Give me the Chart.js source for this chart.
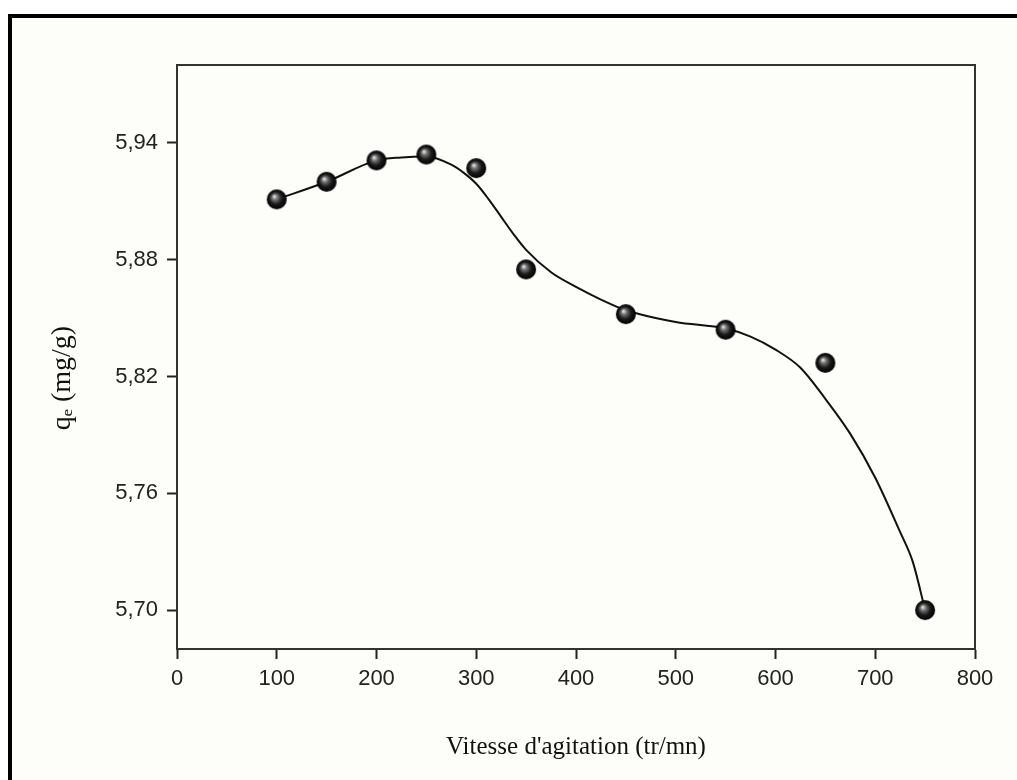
<!DOCTYPE html>
<html>
<head>
<meta charset="utf-8">
<script src="https://cdn.jsdelivr.net/npm/chart.js@4"></script>
<style>
  html, body { margin: 0; padding: 0; background: #fff; }
  canvas { display: block; }
</style>
</head>
<body>
<canvas id="chart" width="1017" height="780"></canvas>
<script>
// measured points
var speeds = [100, 150, 200, 250, 300, 350, 450, 550, 650, 750];
var qe = [5.911, 5.920, 5.931, 5.934, 5.927, 5.875, 5.852, 5.844, 5.827, 5.700];

// smoothed fit curve
var fitSpeeds = [100, 150, 200, 225, 250, 275, 287.5, 300, 312.5, 325, 337.5, 350, 375, 400, 425, 450, 500, 550, 575, 600, 625, 650, 675, 700, 725, 737.5, 750];
var fitQe = [5.911, 5.920, 5.931, 5.9325, 5.933, 5.9288, 5.9246, 5.919, 5.911, 5.902, 5.893, 5.885, 5.8735, 5.866, 5.8595, 5.854, 5.848, 5.8446, 5.8405, 5.8338, 5.8245, 5.8085, 5.7905, 5.768, 5.740, 5.725, 5.700];

var xTicks = [0, 100, 200, 300, 400, 500, 600, 700, 800];
var yTicks = [5.70, 5.76, 5.82, 5.88, 5.94];

function toPoints(xs, ys) {
  return xs.map(function (x, i) { return { x: x, y: ys[i] }; });
}

// little shaded ball used as marker
function makeBall(r) {
  var c = document.createElement('canvas');
  c.width = c.height = r * 2 + 2;
  var g = c.getContext('2d');
  var cx = r + 1, cy = r + 1;
  var grad = g.createRadialGradient(cx - r * 0.25, cy - r * 0.3, r * 0.05, cx, cy, r);
  grad.addColorStop(0, '#e0e0e0');
  grad.addColorStop(0.25, '#707070');
  grad.addColorStop(0.6, '#1a1a1a');
  grad.addColorStop(1, '#000');
  g.fillStyle = grad;
  g.beginPath();
  g.arc(cx, cy, r, 0, Math.PI * 2);
  g.fill();
  return c;
}
var ball = makeBall(10);

var framePlugin = {
  id: 'frame',
  beforeDraw: function (chart) {
    var ctx = chart.ctx;
    ctx.save();
    ctx.fillStyle = '#ffffff';
    ctx.fillRect(0, 0, chart.width, chart.height);
    ctx.fillStyle = '#fdfdf9';
    ctx.fillRect(8, 14, chart.width - 8, chart.height - 14);
    ctx.fillStyle = '#000';
    ctx.fillRect(8, 14, chart.width - 8, 4);
    ctx.fillRect(8, 14, 4, chart.height - 14);
    ctx.restore();
  },
  afterDatasetsDraw: function (chart) {
    var a = chart.chartArea, ctx = chart.ctx;
    ctx.save();
    ctx.strokeStyle = '#333';
    ctx.lineWidth = 2;
    ctx.strokeRect(a.left, a.top, a.right - a.left, a.bottom - a.top);
    ctx.restore();
  }
};

new Chart(document.getElementById('chart'), {
  type: 'scatter',
  data: {
    datasets: [
      {
        label: 'qe',
        data: toPoints(speeds, qe),
        pointStyle: ball,
        pointRadius: 10,
        showLine: false,
        order: 0
      },
      {
        label: 'fit',
        data: toPoints(fitSpeeds, fitQe),
        showLine: true,
        borderColor: '#111',
        borderWidth: 2,
        pointRadius: 0,
        cubicInterpolationMode: 'monotone',
        order: 1
      }
    ]
  },
  options: {
    responsive: false,
    animation: false,
    layout: { padding: { left: 0, top: 65, right: 42, bottom: 0 } },
    plugins: {
      legend: { display: false },
      tooltip: { enabled: false }
    },
    scales: {
      x: {
        type: 'linear',
        min: 0,
        max: 800,
        afterFit: function (s) { s.height = 131; },
        afterBuildTicks: function (s) { s.ticks = xTicks.map(function (v) { return { value: v }; }); },
        grid: { drawOnChartArea: false, drawTicks: true, tickLength: 10, tickWidth: 2, tickColor: '#222' },
        border: { display: true, color: '#333', width: 2 },
        ticks: { color: '#222', padding: 7, font: { family: 'Liberation Sans, Arial', size: 22 } },
        title: {
          display: true,
          text: "Vitesse d'agitation (tr/mn)",
          color: '#111',
          font: { family: 'Liberation Serif, Times New Roman', size: 25 },
          padding: { top: 0, bottom: 18 }
        }
      },
      y: {
        type: 'linear',
        min: 5.68,
        max: 5.98,
        afterFit: function (s) { s.width = 177; },
        afterBuildTicks: function (s) { s.ticks = yTicks.map(function (v) { return { value: v }; }); },
        grid: { drawOnChartArea: false, drawTicks: true, tickLength: 10, tickWidth: 2, tickColor: '#222' },
        border: { display: true, color: '#333', width: 2 },
        ticks: {
          color: '#222',
          padding: 9,
          font: { family: 'Liberation Sans, Arial', size: 22 },
          callback: function (v) { return v.toFixed(2).replace('.', ','); }
        },
        title: {
          display: true,
          // trailing spaces nudge the label lower, as in the original
          text: 'qₑ (mg/g)\u00a0\u00a0\u00a0\u00a0\u00a0\u00a0',
          color: '#111',
          font: { family: 'Liberation Serif, Times New Roman', size: 28 },
          padding: { top: 46, bottom: 0 }
        }
      }
    }
  },
  plugins: [framePlugin]
});
</script>
</body>
</html>
